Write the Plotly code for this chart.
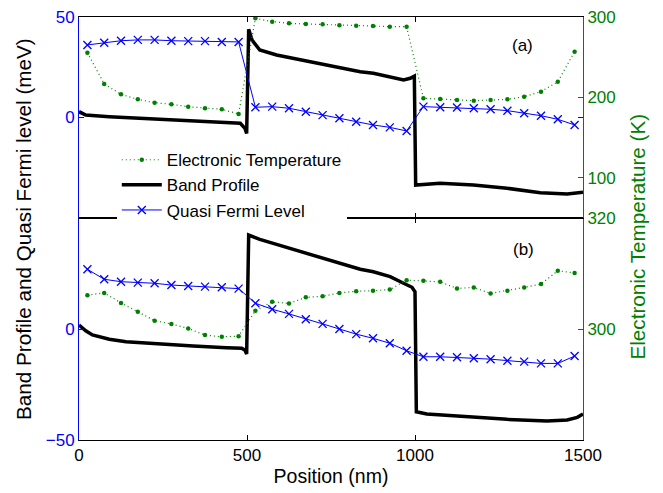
import plotly.graph_objects as go

# ---------------- data ----------------
grid_pos = [25, 75, 125, 175, 225, 275, 325, 375, 425, 475,
            525, 575, 625, 675, 725, 775, 825, 875, 925, 975,
            1025, 1075, 1125, 1175, 1225, 1275, 1325, 1375, 1425, 1475]

# panel (a)
band_a_pos = [0, 20, 90, 240, 390, 480, 494, 499, 505, 515, 538, 588, 638, 737,
              837, 876, 966, 986, 998, 1002, 1075, 1174, 1274, 1373, 1453, 1500]
band_a_val = [2.9, 1.2, 0.4, -0.7, -2.1, -2.9, -5.4, -7.9, 43.9, 38.5, 33.6, 31.1, 29.5, 26.1,
              22.8, 22.0, 18.7, 19.5, 20.6, -33.6, -32.7, -33.6, -35.2, -37.4, -38.0, -37.2]
fermi_a = [36.1, 37.2, 38.2, 38.6, 38.6, 38.2, 38.0, 38.0, 37.6, 37.6,
           5.1, 5.4, 4.6, 2.9, 1.2, -0.4, -2.1, -3.7, -4.9, -6.7,
           5.4, 5.1, 5.0, 4.6, 4.1, 3.4, 2.1, 0.9, -0.9, -3.7]
temp_a = [255.6, 216.7, 203.8, 197.6, 193.4, 191.4, 188.4, 186.4, 185.2, 179.4,
          298.4, 294.2, 292.2, 291.3, 290.9, 289.7, 289.2, 288.8, 288.0, 288.0,
          198.9, 198.0, 196.8, 195.9, 196.8, 197.6, 200.9, 207.1, 219.5, 256.8]

# panel (b)
band_b_pos = [0, 20, 40, 90, 140, 240, 340, 439, 484, 494, 499, 505, 538, 588, 638, 737,
              837, 876, 926, 966, 991, 1000, 1004, 1035, 1174, 1274, 1393, 1453, 1483, 1500]
band_b_val = [1.8, -0.8, -2.7, -4.6, -5.7, -6.8, -7.7, -8.4, -8.7, -9.5, -11.3, 42.3, 40.4, 38.1, 35.9, 31.4,
              26.9, 25.8, 23.6, 20.6, 18.8, 16.8, -37.3, -38.3, -39.8, -40.7, -41.4, -41.0, -39.8, -38.3]
fermi_b = [26.9, 22.4, 21.3, 20.9, 20.6, 19.8, 19.4, 19.1, 18.8, 18.2,
           11.6, 8.9, 6.8, 4.4, 2.3, 0.0, -2.3, -4.2, -6.4, -9.8,
           -12.5, -12.5, -12.7, -13.2, -13.6, -14.3, -14.7, -15.5, -15.5, -12.2]
temp_b = [306.1, 306.5, 304.7, 303.1, 301.5, 300.9, 300.1, 298.9, 298.6, 298.7,
          303.3, 304.9, 304.6, 305.7, 305.9, 306.5, 306.8, 306.9, 307.1, 308.8,
          308.7, 308.5, 307.3, 307.5, 306.4, 306.9, 307.5, 308.1, 310.5, 310.1]

x_ticks = [0, 500, 1000, 1500]
left_ticks_a = [0, 50]
left_ticks_b = [-50, 0]
right_ticks_a = [100, 200, 300]
right_ticks_b = [300, 320]

BLUE = "#0000FF"
GREEN = "#008000"
FONT = "Liberation Sans, Arial, sans-serif"
DOT = "1px,3px"

fig = go.Figure()

# ---- top panel (a) ----
fig.add_trace(go.Scatter(x=grid_pos, y=temp_a, xaxis="x2", yaxis="y4", mode="lines+markers",
                         name="Electronic Temperature",
                         line=dict(color=GREEN, width=1.2, dash=DOT),
                         marker=dict(color=GREEN, size=4.5, symbol="circle")))
fig.add_trace(go.Scatter(x=band_a_pos, y=band_a_val, xaxis="x2", yaxis="y3", mode="lines",
                         name="Band Profile", line=dict(color="black", width=3.5)))
fig.add_trace(go.Scatter(x=grid_pos, y=fermi_a, xaxis="x2", yaxis="y3", mode="lines+markers",
                         name="Quasi Fermi Level", line=dict(color=BLUE, width=1),
                         marker=dict(symbol="x-thin", size=8, line=dict(color=BLUE, width=1.3))))

# ---- bottom panel (b) ----
fig.add_trace(go.Scatter(x=grid_pos, y=temp_b, xaxis="x", yaxis="y2", mode="lines+markers",
                         showlegend=False,
                         line=dict(color=GREEN, width=1.2, dash=DOT),
                         marker=dict(color=GREEN, size=4.5, symbol="circle")))
fig.add_trace(go.Scatter(x=band_b_pos, y=band_b_val, xaxis="x", yaxis="y", mode="lines",
                         showlegend=False, line=dict(color="black", width=3.5)))
fig.add_trace(go.Scatter(x=grid_pos, y=fermi_b, xaxis="x", yaxis="y", mode="lines+markers",
                         showlegend=False, line=dict(color=BLUE, width=1),
                         marker=dict(symbol="x-thin", size=8, line=dict(color=BLUE, width=1.3))))

split = 222 / 423.0
tickfont = dict(family=FONT, size=17)

common_x = dict(range=[0, 1500], tickvals=x_ticks, ticks="inside", ticklen=5,
                showline=True, linecolor="black", linewidth=1, mirror="ticks",
                showgrid=False, zeroline=False, tickcolor="black", automargin=False,
                ticklabeloverflow="allow")

common_y = dict(ticks="inside", ticklen=5, showline=True, showgrid=False, zeroline=False,
                automargin=False, ticklabeloverflow="allow")

fig.update_layout(
    width=663, height=493,
    margin=dict(l=79, r=80, t=17, b=53, autoexpand=False),
    plot_bgcolor="white", paper_bgcolor="white",
    font=dict(family=FONT, size=17, color="black"),
    xaxis=dict(common_x, domain=[0, 1], anchor="y",
               tickfont=dict(tickfont, color="black"),
               title=dict(text="Position (nm)", font=dict(family=FONT, size=19.5), standoff=4)),
    xaxis2=dict(common_x, domain=[0, 1], anchor="y3", showticklabels=False),
    yaxis=dict(common_y, domain=[0, split], range=[-50, 50], tickvals=left_ticks_b,
               tickcolor=BLUE, linecolor=BLUE, mirror="ticks",
               tickfont=dict(tickfont, color=BLUE)),
    yaxis2=dict(common_y, overlaying="y", side="right", anchor="x", range=[280, 320],
                tickvals=right_ticks_b, tickcolor=GREEN, linecolor=GREEN,
                tickfont=dict(tickfont, color=GREEN)),
    yaxis3=dict(common_y, domain=[split, 1], anchor="x2", range=[-50, 50], tickvals=left_ticks_a,
                tickcolor=BLUE, linecolor=BLUE, mirror="ticks",
                tickfont=dict(tickfont, color=BLUE)),
    yaxis4=dict(common_y, overlaying="y3", side="right", anchor="x2", range=[50, 300],
                tickvals=right_ticks_a, tickcolor=GREEN, linecolor=GREEN,
                tickfont=dict(tickfont, color=GREEN)),
    legend=dict(x=0.075, y=0.704, xanchor="left", yanchor="top",
                bgcolor="white", borderwidth=0, font=dict(family=FONT, size=17),
                tracegroupgap=0, itemwidth=40),
    showlegend=True,
)

fig.add_annotation(text="(a)", x=1320, y=36, xref="x2", yref="y3", showarrow=False,
                   font=dict(family=FONT, size=17, color="black"))
fig.add_annotation(text="(b)", x=1323, y=35.6, xref="x", yref="y", showarrow=False,
                   font=dict(family=FONT, size=17, color="black"))
fig.add_annotation(text="Band Profile and Quasi Fermi level (meV)", textangle=-90,
                   x=-0.109, y=0.499, xref="paper", yref="paper", showarrow=False,
                   xanchor="center", yanchor="middle",
                   font=dict(family=FONT, size=20.7, color="black"))
fig.add_annotation(text="Electronic Temperature (K)", textangle=-90,
                   x=1.108, y=0.482, xref="paper", yref="paper", showarrow=False,
                   xanchor="center", yanchor="middle",
                   font=dict(family=FONT, size=20.7, color=GREEN))

# remove the default page margin so the figure sits at the window origin
fig.write_html("out.html", config={"displayModeBar": False},
               post_script="document.body.style.margin='0';")
